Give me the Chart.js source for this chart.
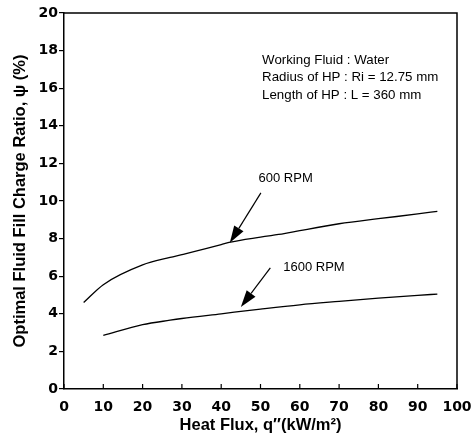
<!DOCTYPE html>
<html>
<head>
<meta charset="utf-8">
<script src="https://cdn.jsdelivr.net/npm/chart.js@4.4.1/dist/chart.umd.min.js"></script>
<style>
html,body{margin:0;padding:0;background:#fff;}
#wrap{width:471px;height:438px;}
</style>
</head>
<body>
<div id="wrap"><canvas id="c" width="471" height="438"></canvas></div>
<script>
// Data
const heatFlux600 = [5, 10, 20, 27, 30, 40, 42, 50, 56, 60, 70, 80, 90, 95];
const ratio600    = [4.6, 5.55, 6.6, 7.0, 7.15, 7.68, 7.8, 8.08, 8.26, 8.42, 8.79, 9.06, 9.31, 9.45];
const heatFlux1600 = [10, 20, 27, 30, 40, 50, 60, 70, 80, 90, 95];
const ratio1600    = [2.85, 3.42, 3.66, 3.75, 4.0, 4.25, 4.48, 4.66, 4.83, 4.98, 5.05];
const xTicks = [0, 10, 20, 30, 40, 50, 60, 70, 80, 90, 100];
const yTicks = [0, 2, 4, 6, 8, 10, 12, 14, 16, 18, 20];
const seriesLabels = ['600 RPM', '1600 RPM'];
// annotation arrows: [label x, label y, arrow start x, start y, arrow tip x, tip y] in data units
const arrow600  = [56.4, 11.2, 50.1, 10.43, 42.2, 7.78];
const arrow1600 = [63.6, 6.49, 52.5, 6.44, 45.0, 4.36];
const infoLines = ['Working Fluid : Water', 'Radius of HP : Ri = 12.75 mm', 'Length of HP : L = 360 mm'];
const infoPos = [50.4, 17.5]; // data units (x, y of first line)

const toPts = (xs, ys) => xs.map((x, i) => ({x: x, y: ys[i]}));
const SANS = '"Liberation Sans", Arial, sans-serif';
const WIDE = '"DejaVu Sans", sans-serif';

const annotPlugin = {
  id: 'annot',
  afterDraw(chart) {
    const ctx = chart.ctx, xs = chart.scales.x, ys = chart.scales.y, a = chart.chartArea;
    ctx.save();
    // frame top & right
    ctx.strokeStyle = '#000';
    ctx.lineWidth = 1.5;
    ctx.beginPath();
    ctx.moveTo(a.left, a.top); ctx.lineTo(a.right, a.top); ctx.lineTo(a.right, a.bottom);
    ctx.stroke();
    // inward x ticks
    ctx.lineWidth = 1.2;
    xTicks.forEach(v => {
      const px = xs.getPixelForValue(v);
      ctx.beginPath(); ctx.moveTo(px, a.bottom); ctx.lineTo(px, a.bottom - 5); ctx.stroke();
    });
    // arrows + labels
    [[arrow600, seriesLabels[0]], [arrow1600, seriesLabels[1]]].forEach(([ar, lab]) => {
      const lx = xs.getPixelForValue(ar[0]), ly = ys.getPixelForValue(ar[1]);
      ctx.fillStyle = '#000';
      ctx.font = '13px ' + SANS;
      ctx.textAlign = 'center'; ctx.textBaseline = 'middle';
      ctx.fillText(lab, lx, ly);
      const sx = xs.getPixelForValue(ar[2]), sy = ys.getPixelForValue(ar[3]);
      const tx = xs.getPixelForValue(ar[4]), ty = ys.getPixelForValue(ar[5]);
      const ang = Math.atan2(ty - sy, tx - sx);
      const hl = 17, hw = 5.5;
      const bx = tx - hl * Math.cos(ang), by = ty - hl * Math.sin(ang);
      ctx.lineWidth = 1.2;
      ctx.beginPath(); ctx.moveTo(sx, sy); ctx.lineTo(bx, by); ctx.stroke();
      ctx.beginPath();
      ctx.moveTo(tx, ty);
      ctx.lineTo(bx + hw * Math.sin(ang), by - hw * Math.cos(ang));
      ctx.lineTo(bx - hw * Math.sin(ang), by + hw * Math.cos(ang));
      ctx.closePath(); ctx.fill();
    });
    // info text
    ctx.font = '13.3px ' + SANS;
    ctx.textAlign = 'left'; ctx.textBaseline = 'middle';
    const ix = xs.getPixelForValue(infoPos[0]), iy = ys.getPixelForValue(infoPos[1]);
    infoLines.forEach((t, i) => ctx.fillText(t, ix, iy + i * 17.5));
    ctx.restore();
  }
};

new Chart(document.getElementById('c'), {
  type: 'scatter',
  data: {
    datasets: [
      {label: seriesLabels[0], data: toPts(heatFlux600, ratio600), showLine: true, borderColor: '#000', borderWidth: 1.3, pointRadius: 0, tension: 0.4, cubicInterpolationMode: 'monotone'},
      {label: seriesLabels[1], data: toPts(heatFlux1600, ratio1600), showLine: true, borderColor: '#000', borderWidth: 1.3, pointRadius: 0, tension: 0.4, cubicInterpolationMode: 'monotone'}
    ]
  },
  options: {
    responsive: false,
    animation: false,
    devicePixelRatio: 1,
    layout: {padding: {top: 13, right: 14, left: 0, bottom: 0}},
    plugins: {legend: {display: false}, tooltip: {enabled: false}},
    scales: {
      x: {
        type: 'linear', min: 0, max: 100,
        afterBuildTicks: s => { s.ticks = xTicks.map(v => ({value: v})); },
        afterFit: s => { s.height = 49; s.paddingLeft = 0; s.paddingRight = 0; },
        grid: {display: false, drawTicks: false},
        border: {display: true, color: '#000', width: 1.5},
        ticks: {color: '#000', padding: 10, maxRotation: 0, font: {family: WIDE, size: 14, weight: 'bold'}},
        title: {display: true, text: 'Heat Flux, q\u2033(kW/m\u00B2)', color: '#000', padding: {top: 0, bottom: 3}, font: {family: SANS, size: 16.5, weight: 'bold'}}
      },
      y: {
        type: 'linear', min: 0, max: 20,
        afterBuildTicks: s => { s.ticks = yTicks.map(v => ({value: v})); },
        afterFit: s => { s.width = 64; s.paddingTop = 0; s.paddingBottom = 0; },
        grid: {display: true, drawOnChartArea: false, drawTicks: true, tickLength: 5, color: '#000', lineWidth: 1.2},
        border: {display: true, color: '#000', width: 1.5},
        ticks: {color: '#000', padding: 1, font: {family: WIDE, size: 14, weight: 'bold'}},
        title: {display: true, text: 'Optimal Fluid Fill Charge Ratio, \u03C8 (%)', color: '#000', padding: {top: 11, bottom: 2}, font: {family: SANS, size: 16.5, weight: 'bold'}}
      }
    }
  },
  plugins: [annotPlugin]
});
</script>
</body>
</html>
